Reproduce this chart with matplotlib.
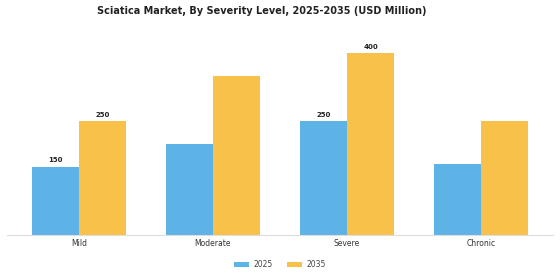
import matplotlib
matplotlib.use("Agg")
import matplotlib.pyplot as plt
import numpy as np

categories = ["Mild", "Moderate", "Severe", "Chronic"]
years = ["2025", "2035"]
values_2025 = [150, 200, 250, 155]
values_2035 = [250, 350, 400, 250]
labels_2025 = ["150", "", "250", ""]
labels_2035 = ["250", "", "400", ""]
colors = ["#5DB3E5", "#F8C14A"]

fig = plt.figure(figsize=(5.6, 2.8), dpi=100)
ax = fig.add_axes([0.0125, 0.1625, 0.975, 0.7115])

x = np.arange(len(categories))
w = 0.35
b1 = ax.bar(x - w / 2, values_2025, w, color=colors[0], label=years[0])
b2 = ax.bar(x + w / 2, values_2035, w, color=colors[1], label=years[1])

for bars, labs in ((b1, labels_2025), (b2, labels_2035)):
    for bar, lab in zip(bars, labs):
        if lab:
            ax.text(bar.get_x() + bar.get_width() / 2, bar.get_height() + 8, lab,
                    ha="center", va="bottom", fontsize=5, fontweight="bold", color="#222222")

ax.set_xlim(-0.535, 3.535)
ax.set_ylim(0, 440)
ax.set_xticks(x)
ax.set_xticklabels(categories, fontsize=5.5, color="#333333")
ax.tick_params(axis="x", length=0, pad=3)
ax.set_yticks([])
for s in ("top", "right", "left"):
    ax.spines[s].set_visible(False)
ax.spines["bottom"].set_color("#dddddd")
ax.spines["bottom"].set_linewidth(0.8)

fig.text(0.467, 0.96, "Sciatica Market, By Severity Level, 2025-2035 (USD Million)",
         ha="center", va="center", fontsize=7, fontweight="bold", color="#222222")

fig.legend(loc="center", bbox_to_anchor=(0.5, 0.055), ncol=2, frameon=False,
           fontsize=5.5, handlelength=2.0, handleheight=0.5, columnspacing=1.8,
           handletextpad=0.6, labelcolor="#444444")

fig.savefig("out.png", dpi=100)
